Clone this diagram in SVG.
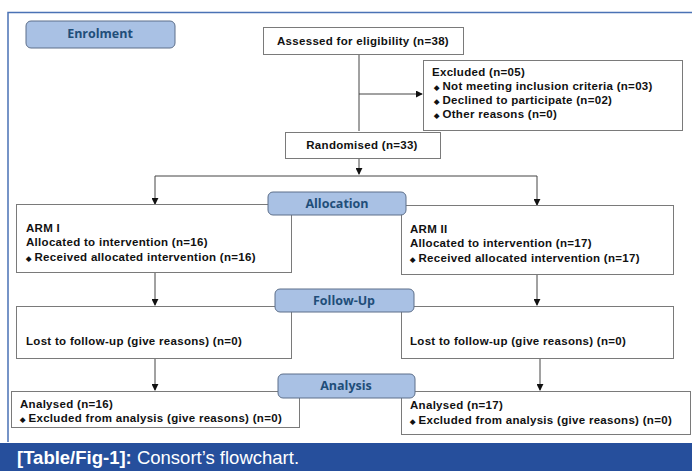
<svg xmlns="http://www.w3.org/2000/svg" width="692" height="471" viewBox="0 0 692 471">
<defs>
<marker id="arr" viewBox="0 0 8 8" refX="7" refY="4" markerWidth="7" markerHeight="7" markerUnits="userSpaceOnUse" orient="auto">
<path d="M0,0 L8,4 L0,8 z" fill="#111"/>
</marker>
</defs>
<style>
.box{fill:#fff;stroke:#7a7a7a;stroke-width:1}
.hdr{fill:#a9c1e4;stroke:#5d6f8a;stroke-width:1}
.ht{font-family:"Open Sans","Liberation Sans",sans-serif;font-weight:700;font-size:12.5px;fill:#1f4e79;text-anchor:middle}
.t{font-family:"Liberation Sans",Arial,sans-serif;font-weight:700;font-size:11.5px;letter-spacing:0.3px;fill:#111}
.b{font-size:7px;letter-spacing:0}
.c{text-anchor:middle}
.ln{fill:none;stroke:#444;stroke-width:1}
.cap{font-family:"Liberation Sans",Arial,sans-serif;font-size:18.5px;fill:#fff}
</style>
<rect x="0" y="0" width="692" height="471" fill="#fff"/>
<path d="M8,442 L8,12.5 L692,12.5" fill="none" stroke="#4a72b5" stroke-width="1.5"/>
<rect x="0" y="443" width="692" height="28" fill="#264f9c"/>
<text x="17" y="464" class="cap"><tspan font-weight="700">[Table/Fig-1]:</tspan> Consort’s flowchart.</text>

<g id="connectors">
<path class="ln" d="M359,54 L359,131"/>
<path class="ln" d="M359,94 L422,94" marker-end="url(#arr)"/>
<path class="ln" d="M359,158 L359,174" marker-end="url(#arr)"/>
<path class="ln" d="M155,176 L537,176 L537,205" marker-end="url(#arr)"/>
<path class="ln" d="M155,176 L155,204" marker-end="url(#arr)"/>
<path class="ln" d="M155,273 L155,305" marker-end="url(#arr)"/>
<path class="ln" d="M537,274 L537,305" marker-end="url(#arr)"/>
<path class="ln" d="M155,359 L155,390" marker-end="url(#arr)"/>
<path class="ln" d="M540,359 L540,390" marker-end="url(#arr)"/>
</g>

<g id="enrolment"><rect class="hdr" x="26" y="21" width="149" height="27" rx="5"/><text class="ht" x="100" y="38">Enrolment</text></g>

<g id="assessed"><rect class="box" x="263.5" y="27.5" width="200" height="27"/><text class="t c" x="363" y="45">Assessed for eligibility (n=38)</text></g>

<g id="excluded"><rect class="box" x="423.5" y="60.5" width="259" height="70"/>
<text class="t" x="432" y="76">Excluded (n=05)</text>
<text class="t" x="434" y="90"><tspan class="b">◆</tspan> Not meeting inclusion criteria (n=03)</text>
<text class="t" x="434" y="104"><tspan class="b">◆</tspan> Declined to participate (n=02)</text>
<text class="t" x="434" y="118"><tspan class="b">◆</tspan> Other reasons (n=0)</text>
</g>

<g id="randomised"><rect class="box" x="285.5" y="132.5" width="155" height="26"/><text class="t c" x="362" y="149">Randomised (n=33)</text></g>

<g id="arm1"><rect class="box" x="16.5" y="204.5" width="275" height="68"/>
<text class="t" x="26" y="232">ARM I</text>
<text class="t" x="26" y="246">Allocated to intervention (n=16)</text>
<text class="t" x="26" y="261"><tspan class="b">◆</tspan> Received allocated intervention (n=16)</text>
</g>

<g id="arm2"><rect class="box" x="401.5" y="205.5" width="272" height="69"/>
<text class="t" x="410" y="233">ARM II</text>
<text class="t" x="410" y="247">Allocated to intervention (n=17)</text>
<text class="t" x="410" y="262"><tspan class="b">◆</tspan> Received allocated intervention (n=17)</text>
</g>

<g id="allocation"><rect class="hdr" x="268" y="192" width="138" height="23" rx="5"/><text class="ht" x="337" y="208">Allocation</text></g>

<g id="lost1"><rect class="box" x="16.5" y="306.5" width="275" height="52"/><text class="t" x="26" y="345">Lost to follow-up (give reasons) (n=0)</text></g>
<g id="lost2"><rect class="box" x="401.5" y="306.5" width="272" height="52"/><text class="t" x="410" y="345">Lost to follow-up (give reasons) (n=0)</text></g>

<g id="followup"><rect class="hdr" x="275" y="289" width="139" height="23" rx="5"/><text class="ht" x="344" y="305">Follow-Up</text></g>

<g id="analysed1"><rect class="box" x="11.5" y="391.5" width="288" height="36"/>
<text class="t" x="20" y="408">Analysed (n=16)</text>
<text class="t" x="20" y="422"><tspan class="b">◆</tspan> Excluded from analysis (give reasons) (n=0)</text>
</g>
<g id="analysed2"><rect class="box" x="401.5" y="391.5" width="289" height="43"/>
<text class="t" x="410" y="409">Analysed (n=17)</text>
<text class="t" x="410" y="424"><tspan class="b">◆</tspan> Excluded from analysis (give reasons) (n=0)</text>
</g>

<g id="analysis"><rect class="hdr" x="278" y="374" width="137" height="24" rx="5"/><text class="ht" x="346" y="390">Analysis</text></g>
</svg>
